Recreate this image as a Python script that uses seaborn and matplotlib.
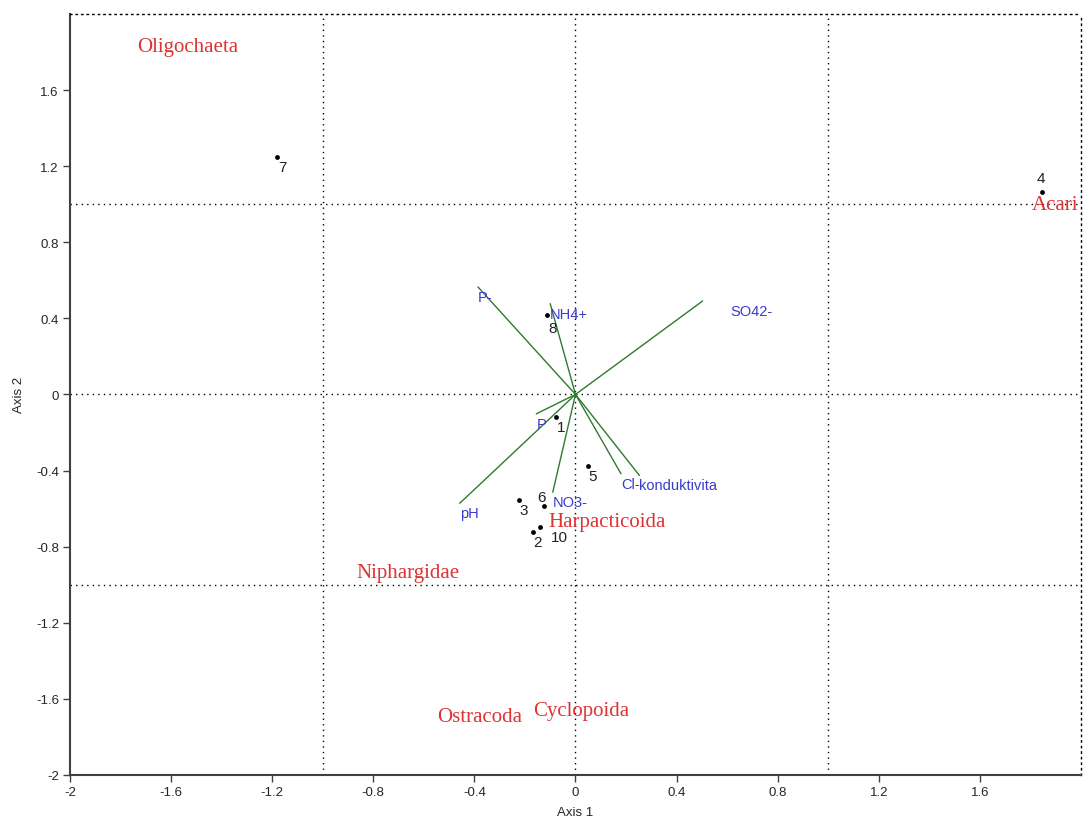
import numpy as np
import pandas as pd
import seaborn as sns
import matplotlib.pyplot as plt

# Site scores (sample points)
site_ids = ["7", "4", "8", "1", "5", "6", "3", "10", "2"]
site_x = [-1.18, 1.845, -0.112, -0.076, 0.049, -0.125, -0.224, -0.142, -0.169]
site_y = [1.247, 1.065, 0.42, -0.116, -0.374, -0.584, -0.554, -0.695, -0.725]

# Species scores (label positions)
species = ["Oligochaeta", "Acari", "Harpacticoida", "Niphargidae", "Ostracoda", "Cyclopoida"]
species_x = [-1.534, 1.896, 0.126, -0.664, -0.379, 0.024]
species_y = [1.83, 0.996, -0.668, -0.937, -1.695, -1.663]

# Environmental vectors
env_vars = ["P-", "NH4+", "SO42-", "Cl-", "konduktivita", "NO3-", "pH", "P"]
env_x = [-0.386, -0.1, 0.503, 0.18, 0.253, -0.09, -0.458, -0.155]
env_y = [0.565, 0.477, 0.491, -0.417, -0.426, -0.514, -0.572, -0.102]

tick_vals = [-2, -1.6, -1.2, -0.8, -0.4, 0, 0.4, 0.8, 1.2, 1.6]
tick_labels = ["-2", "-1.6", "-1.2", "-0.8", "-0.4", "0", "0.4", "0.8", "1.2", "1.6"]

sns.set_theme(style="white")
plt.rcParams["font.family"] = ["Liberation Sans", "DejaVu Sans"]

sites = pd.DataFrame({"id": site_ids, "x": site_x, "y": site_y})

fig = plt.figure(figsize=(10.84, 8.29), dpi=100)
ax = fig.add_axes([0.0646, 0.064, 0.9326, 0.918])

# dotted reference grid
dots = (0, (1, 3))
for v in [-1, 0, 1]:
    ax.axvline(v, color="black", lw=1, ls=dots, zorder=0)
    ax.axhline(v, color="black", lw=1, ls=dots, zorder=0)

# environmental vectors
for name, ex, ey in zip(env_vars, env_x, env_y):
    ax.plot([0, ex], [0, ey], color="#2f7a2f", lw=1, zorder=2)
    dx = 28 if name == "SO42-" else 0
    ax.annotate(name, (ex, ey), xytext=(dx, -3), textcoords="offset pixels",
                ha="left", va="top", fontsize=10.5, color="#3a3acc")

# site points
sns.scatterplot(data=sites, x="x", y="y", ax=ax, color="black", s=12,
                edgecolor="black", linewidth=0, legend=False, zorder=3)
site_off = {"6": (-2, 9), "4": (-1, 14), "10": (20, -10), "8": (5, -13)}
for sid, sx, sy in zip(site_ids, site_x, site_y):
    ox, oy = site_off.get(sid, (5, -10))
    ax.annotate(sid, (sx, sy), xytext=(ox, oy), textcoords="offset pixels",
                ha="center", va="center", fontsize=11, color="#202020")

# species labels
for name, px, py in zip(species, species_x, species_y):
    ax.text(px, py, name, ha="center", va="center", fontsize=15,
            color="#dd3333", family=["Liberation Serif", "DejaVu Serif"])

ax.set_xlim(-2, 2)
ax.set_ylim(-2, 2)
ax.set_xticks(tick_vals)
ax.set_xticklabels(tick_labels)
ax.set_yticks(tick_vals)
ax.set_yticklabels(tick_labels)
ax.tick_params(axis="both", direction="out", length=5, width=1, color="#404040",
               labelsize=9.5, pad=3, bottom=True, left=True)
ax.set_xlabel("Axis 1", fontsize=9.5, labelpad=6)
ax.set_ylabel("Axis 2", fontsize=9.5, labelpad=8)

for side in ["left", "bottom"]:
    ax.spines[side].set_color("#404040")
    ax.spines[side].set_linewidth(1.5)
for side in ["top", "right"]:
    ax.spines[side].set_color("black")
    ax.spines[side].set_linewidth(1)
    ax.spines[side].set_linestyle(dots)

fig.savefig("out.png", dpi=100)
